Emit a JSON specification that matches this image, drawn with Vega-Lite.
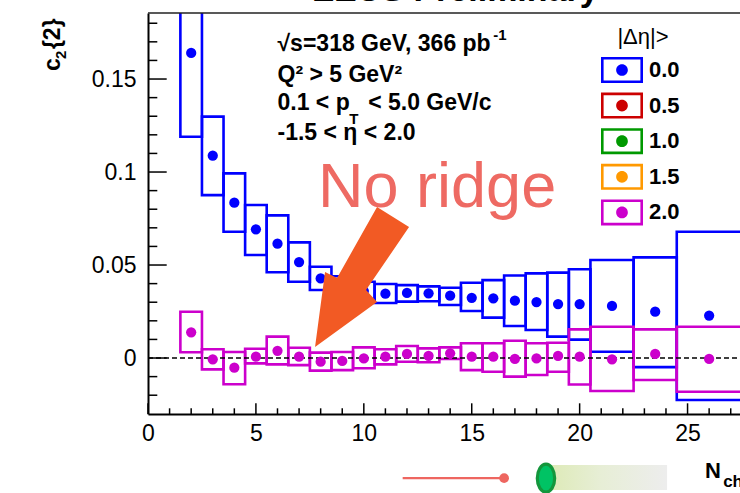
{
  "$schema": "https://vega.github.io/schema/vega-lite/v6.json",
  "width": 592,
  "height": 401,
  "autosize": {"type": "none"},
  "padding": {"left": 148, "top": 13, "right": 0, "bottom": 79},
  "background": "white",
  "config": {
    "view": {"stroke": null},
    "font": "Liberation Sans",
    "axisX": {
      "ticks": false,
      "grid": false,
      "labelFont": "Liberation Sans",
      "labelFontSize": 23,
      "labelColor": "black",
      "labelPadding": 8,
      "labelFlush": false,
      "labelOverlap": false,
      "domainColor": "black",
      "domainWidth": 2
    },
    "axisY": {
      "ticks": false,
      "grid": false,
      "labelFont": "Liberation Sans",
      "labelFontSize": 23,
      "labelColor": "black",
      "labelPadding": 12,
      "labelFlush": false,
      "labelOverlap": false,
      "domainColor": "black",
      "domainWidth": 2
    }
  },
  "data": {"values": [{}]},
  "datasets": {
    "c2": [
      {"series": "0.0", "nch": 2, "c2": 0.164, "lo": 0.119, "hi": 0.209, "x0": 1.5, "x1": 2.5},
      {"series": "0.0", "nch": 3, "c2": 0.1088, "lo": 0.0876, "hi": 0.1298, "x0": 2.5, "x1": 3.5},
      {"series": "0.0", "nch": 4, "c2": 0.0835, "lo": 0.0679, "hi": 0.0993, "x0": 3.5, "x1": 4.5},
      {"series": "0.0", "nch": 5, "c2": 0.0692, "lo": 0.0554, "hi": 0.0823, "x0": 4.5, "x1": 5.5},
      {"series": "0.0", "nch": 6, "c2": 0.0615, "lo": 0.0461, "hi": 0.0767, "x0": 5.5, "x1": 6.5},
      {"series": "0.0", "nch": 7, "c2": 0.0516, "lo": 0.041, "hi": 0.0622, "x0": 6.5, "x1": 7.5},
      {"series": "0.0", "nch": 8, "c2": 0.0428, "lo": 0.0366, "hi": 0.0491, "x0": 7.5, "x1": 8.5},
      {"series": "0.0", "nch": 9, "c2": 0.0385, "lo": 0.033, "hi": 0.044, "x0": 8.5, "x1": 9.5},
      {"series": "0.0", "nch": 10, "c2": 0.036, "lo": 0.031, "hi": 0.041, "x0": 9.5, "x1": 10.5},
      {"series": "0.0", "nch": 11, "c2": 0.0346, "lo": 0.0296, "hi": 0.0398, "x0": 10.5, "x1": 11.5},
      {"series": "0.0", "nch": 12, "c2": 0.035, "lo": 0.0303, "hi": 0.0392, "x0": 11.5, "x1": 12.5},
      {"series": "0.0", "nch": 13, "c2": 0.0348, "lo": 0.0305, "hi": 0.0385, "x0": 12.5, "x1": 13.5},
      {"series": "0.0", "nch": 14, "c2": 0.0335, "lo": 0.0285, "hi": 0.0378, "x0": 13.5, "x1": 14.5},
      {"series": "0.0", "nch": 15, "c2": 0.0324, "lo": 0.0253, "hi": 0.0405, "x0": 14.5, "x1": 15.5},
      {"series": "0.0", "nch": 16, "c2": 0.0321, "lo": 0.0217, "hi": 0.0419, "x0": 15.5, "x1": 16.5},
      {"series": "0.0", "nch": 17, "c2": 0.0308, "lo": 0.0172, "hi": 0.0444, "x0": 16.5, "x1": 17.5},
      {"series": "0.0", "nch": 18, "c2": 0.0301, "lo": 0.0151, "hi": 0.0455, "x0": 17.5, "x1": 18.5},
      {"series": "0.0", "nch": 19, "c2": 0.029, "lo": 0.0115, "hi": 0.0459, "x0": 18.5, "x1": 19.5},
      {"series": "0.0", "nch": 20, "c2": 0.029, "lo": 0.0099, "hi": 0.0477, "x0": 19.5, "x1": 20.5},
      {"series": "0.0", "nch": 21.5, "c2": 0.028, "lo": 0.0034, "hi": 0.0527, "x0": 20.5, "x1": 22.5},
      {"series": "0.0", "nch": 23.5, "c2": 0.0249, "lo": -0.0049, "hi": 0.0541, "x0": 22.5, "x1": 24.5},
      {"series": "0.0", "nch": 26, "c2": 0.0228, "lo": -0.0226, "hi": 0.0679, "x0": 24.5, "x1": 27.5},
      {"series": "2.0", "nch": 2, "c2": 0.0138, "lo": 0.0031, "hi": 0.0249, "x0": 1.5, "x1": 2.5},
      {"series": "2.0", "nch": 3, "c2": -0.0007, "lo": -0.0061, "hi": 0.0047, "x0": 2.5, "x1": 3.5},
      {"series": "2.0", "nch": 4, "c2": -0.0052, "lo": -0.0141, "hi": 0.0032, "x0": 3.5, "x1": 4.5},
      {"series": "2.0", "nch": 5, "c2": 0.0007, "lo": -0.0029, "hi": 0.005, "x0": 4.5, "x1": 5.5},
      {"series": "2.0", "nch": 6, "c2": 0.0039, "lo": -0.0034, "hi": 0.0115, "x0": 5.5, "x1": 6.5},
      {"series": "2.0", "nch": 7, "c2": 0.0007, "lo": -0.0038, "hi": 0.0055, "x0": 6.5, "x1": 7.5},
      {"series": "2.0", "nch": 8, "c2": -0.002, "lo": -0.0068, "hi": 0.0029, "x0": 7.5, "x1": 8.5},
      {"series": "2.0", "nch": 9, "c2": -0.0016, "lo": -0.0065, "hi": 0.0032, "x0": 8.5, "x1": 9.5},
      {"series": "2.0", "nch": 10, "c2": -0.0002, "lo": -0.0055, "hi": 0.0057, "x0": 9.5, "x1": 10.5},
      {"series": "2.0", "nch": 11, "c2": 0.0007, "lo": -0.0034, "hi": 0.0047, "x0": 10.5, "x1": 11.5},
      {"series": "2.0", "nch": 12, "c2": 0.0022, "lo": -0.002, "hi": 0.0065, "x0": 11.5, "x1": 12.5},
      {"series": "2.0", "nch": 13, "c2": 0.0012, "lo": -0.0023, "hi": 0.0052, "x0": 12.5, "x1": 13.5},
      {"series": "2.0", "nch": 14, "c2": 0.0025, "lo": -0.0005, "hi": 0.0057, "x0": 13.5, "x1": 14.5},
      {"series": "2.0", "nch": 15, "c2": 0.0007, "lo": -0.0065, "hi": 0.0079, "x0": 14.5, "x1": 15.5},
      {"series": "2.0", "nch": 16, "c2": 0.0007, "lo": -0.0074, "hi": 0.0079, "x0": 15.5, "x1": 16.5},
      {"series": "2.0", "nch": 17, "c2": -0.0005, "lo": -0.01, "hi": 0.0093, "x0": 16.5, "x1": 17.5},
      {"series": "2.0", "nch": 18, "c2": -0.0002, "lo": -0.0091, "hi": 0.0079, "x0": 17.5, "x1": 18.5},
      {"series": "2.0", "nch": 19, "c2": 0.0011, "lo": -0.0074, "hi": 0.0082, "x0": 18.5, "x1": 19.5},
      {"series": "2.0", "nch": 20, "c2": 0.0007, "lo": -0.0142, "hi": 0.0154, "x0": 19.5, "x1": 20.5},
      {"series": "2.0", "nch": 21.5, "c2": -0.0007, "lo": -0.0177, "hi": 0.0168, "x0": 20.5, "x1": 22.5},
      {"series": "2.0", "nch": 23.5, "c2": 0.0022, "lo": -0.0118, "hi": 0.0154, "x0": 22.5, "x1": 24.5},
      {"series": "2.0", "nch": 26, "c2": -0.0005, "lo": -0.0181, "hi": 0.0168, "x0": 24.5, "x1": 27.5}
    ],
    "yMajor": [{"v": 0}, {"v": 0.05}, {"v": 0.1}, {"v": 0.15}],
    "yMinor": [
      {"v": -0.02}, {"v": -0.01}, {"v": 0.01}, {"v": 0.02}, {"v": 0.03}, {"v": 0.04},
      {"v": 0.06}, {"v": 0.07}, {"v": 0.08}, {"v": 0.09}, {"v": 0.11}, {"v": 0.12},
      {"v": 0.13}, {"v": 0.14}, {"v": 0.16}, {"v": 0.17}, {"v": 0.18}
    ],
    "xMajor": [{"v": 0}, {"v": 5}, {"v": 10}, {"v": 15}, {"v": 20}, {"v": 25}],
    "xMinor": [
      {"v": 1}, {"v": 2}, {"v": 3}, {"v": 4}, {"v": 6}, {"v": 7}, {"v": 8}, {"v": 9},
      {"v": 11}, {"v": 12}, {"v": 13}, {"v": 14}, {"v": 16}, {"v": 17}, {"v": 18}, {"v": 19},
      {"v": 21}, {"v": 22}, {"v": 23}, {"v": 24}, {"v": 26}, {"v": 27}
    ]
  },
  "layer": [
    {
      "data": {"name": "c2"},
      "transform": [{"filter": "datum.series === '0.0'"}],
      "mark": {"type": "rect", "filled": false, "stroke": "#0000FF", "strokeWidth": 2.6, "clip": true},
      "encoding": {
        "x": {
          "field": "x0",
          "type": "quantitative",
          "scale": {"domain": [0, 27.43], "nice": false, "zero": false},
          "axis": {"values": [0, 5, 10, 15, 20, 25], "title": null}
        },
        "x2": {"field": "x1"},
        "y": {
          "field": "lo",
          "type": "quantitative",
          "scale": {"domain": [-0.0301, 0.1855], "nice": false, "zero": false},
          "axis": {"values": [0, 0.05, 0.1, 0.15], "format": "~g", "title": null}
        },
        "y2": {"field": "hi"}
      }
    },
    {
      "data": {"name": "c2"},
      "transform": [{"filter": "datum.series === '2.0'"}],
      "mark": {"type": "rect", "filled": false, "stroke": "#CC00CC", "strokeWidth": 2.6, "clip": true},
      "encoding": {
        "x": {"field": "x0", "type": "quantitative", "title": null},
        "x2": {"field": "x1"},
        "y": {"field": "lo", "type": "quantitative", "title": null},
        "y2": {"field": "hi"}
      }
    },
    {
      "mark": {"type": "rule", "color": "black", "strokeWidth": 1.3, "strokeDash": [5, 3]},
      "encoding": {
        "x": {"datum": 0, "type": "quantitative"},
        "x2": {"datum": 27.43},
        "y": {"datum": 0, "type": "quantitative"}
      }
    },
    {
      "data": {"name": "c2"},
      "mark": {"type": "point", "filled": true, "size": 105, "opacity": 1, "clip": true},
      "encoding": {
        "x": {"field": "nch", "type": "quantitative", "title": null},
        "y": {"field": "c2", "type": "quantitative", "title": null},
        "color": {
          "field": "series",
          "type": "nominal",
          "scale": {
            "domain": ["0.0", "0.5", "1.0", "1.5", "2.0"],
            "range": ["#0000FF", "#CC0000", "#009900", "#FF9900", "#CC00CC"]
          },
          "legend": {
            "title": "|Δη|>",
            "orient": "none",
            "legendX": 459,
            "legendY": 14,
            "padding": 0,
            "direction": "vertical",
            "symbolType": "M-1.4,-0.867H1.4V0.867H-1.4Z M-1.227,-0.693V0.693H1.227V-0.693Z M0.39,0A0.39,0.39,0,1,1,-0.39,0A0.39,0.39,0,1,1,0.39,0Z",
            "symbolSize": 900,
            "symbolStrokeWidth": 0,
            "symbolOpacity": 1,
            "labelFont": "Liberation Sans",
            "labelFontSize": 22,
            "labelFontWeight": "bold",
            "labelColor": "black",
            "labelOffset": 12,
            "titleFont": "Liberation Sans",
            "titleFontSize": 22,
            "titleFontWeight": "normal",
            "titleColor": "black",
            "titleAnchor": "middle",
            "titlePadding": 6,
            "rowPadding": 6.6
          }
        }
      }
    },
    {
      "data": {"name": "yMajor"},
      "mark": {"type": "rule", "color": "black", "strokeWidth": 1.5, "x2Offset": 18.7},
      "encoding": {
        "x": {"datum": 0, "type": "quantitative"},
        "x2": {"datum": 0},
        "y": {"field": "v", "type": "quantitative", "title": null}
      }
    },
    {
      "data": {"name": "yMinor"},
      "mark": {"type": "rule", "color": "black", "strokeWidth": 1.5, "x2Offset": 9.3},
      "encoding": {
        "x": {"datum": 0, "type": "quantitative"},
        "x2": {"datum": 0},
        "y": {"field": "v", "type": "quantitative", "title": null}
      }
    },
    {
      "data": {"name": "xMajor"},
      "mark": {"type": "rule", "color": "black", "strokeWidth": 1.5, "y2Offset": -10.7},
      "encoding": {
        "x": {"field": "v", "type": "quantitative", "title": null},
        "y": {"datum": -0.0301, "type": "quantitative"},
        "y2": {"datum": -0.0301}
      }
    },
    {
      "data": {"name": "xMinor"},
      "mark": {"type": "rule", "color": "black", "strokeWidth": 1.5, "y2Offset": -5.7},
      "encoding": {
        "x": {"field": "v", "type": "quantitative", "title": null},
        "y": {"datum": -0.0301, "type": "quantitative"},
        "y2": {"datum": -0.0301}
      }
    },
    {
      "mark": {"type": "rule", "color": "#222222", "strokeWidth": 1.6},
      "encoding": {
        "x": {"datum": 0, "type": "quantitative"},
        "x2": {"datum": 27.43},
        "y": {"datum": 0.1855, "type": "quantitative"}
      }
    },
    {
      "mark": {"type": "text", "text": "ZEUS Preliminary", "align": "center", "baseline": "alphabetic", "font": "Liberation Sans", "fontSize": 34, "fontWeight": "bold", "color": "black"},
      "encoding": {"x": {"datum": 14.27, "type": "quantitative"}, "y": {"datum": 0.1918, "type": "quantitative"}}
    },
    {
      "mark": {"type": "text", "text": "c", "align": "left", "baseline": "alphabetic", "angle": 270, "font": "Liberation Sans", "fontSize": 23, "fontWeight": "bold", "color": "black"},
      "encoding": {"x": {"datum": -4.08, "type": "quantitative"}, "y": {"datum": 0.1543, "type": "quantitative"}}
    },
    {
      "mark": {"type": "text", "text": "2", "align": "left", "baseline": "alphabetic", "angle": 270, "font": "Liberation Sans", "fontSize": 15, "fontWeight": "bold", "color": "black"},
      "encoding": {"x": {"datum": -3.8, "type": "quantitative"}, "y": {"datum": 0.1608, "type": "quantitative"}}
    },
    {
      "mark": {"type": "text", "text": "{2}", "align": "left", "baseline": "alphabetic", "angle": 270, "font": "Liberation Sans", "fontSize": 23, "fontWeight": "bold", "color": "black"},
      "encoding": {"x": {"datum": -4.08, "type": "quantitative"}, "y": {"datum": 0.1661, "type": "quantitative"}}
    },
    {
      "mark": {"type": "text", "text": "√s=318 GeV, 366 pb", "align": "left", "baseline": "alphabetic", "font": "Liberation Sans", "fontSize": 23, "fontWeight": "bold", "color": "black"},
      "encoding": {"x": {"datum": 6.0, "type": "quantitative"}, "y": {"datum": 0.1651, "type": "quantitative"}}
    },
    {
      "mark": {"type": "text", "text": "-1", "align": "left", "baseline": "alphabetic", "font": "Liberation Sans", "fontSize": 15, "fontWeight": "bold", "color": "black"},
      "encoding": {"x": {"datum": 16.0, "type": "quantitative"}, "y": {"datum": 0.171, "type": "quantitative"}}
    },
    {
      "mark": {"type": "text", "text": "Q² > 5 GeV²", "align": "left", "baseline": "alphabetic", "font": "Liberation Sans", "fontSize": 23, "fontWeight": "bold", "color": "black"},
      "encoding": {"x": {"datum": 6.0, "type": "quantitative"}, "y": {"datum": 0.1484, "type": "quantitative"}}
    },
    {
      "mark": {"type": "text", "text": "0.1 < p", "align": "left", "baseline": "alphabetic", "font": "Liberation Sans", "fontSize": 23, "fontWeight": "bold", "color": "black"},
      "encoding": {"x": {"datum": 6.0, "type": "quantitative"}, "y": {"datum": 0.1333, "type": "quantitative"}}
    },
    {
      "mark": {"type": "text", "text": "T", "align": "left", "baseline": "alphabetic", "font": "Liberation Sans", "fontSize": 15, "fontWeight": "bold", "color": "black"},
      "encoding": {"x": {"datum": 9.33, "type": "quantitative"}, "y": {"datum": 0.1258, "type": "quantitative"}}
    },
    {
      "mark": {"type": "text", "text": "< 5.0 GeV/c", "align": "left", "baseline": "alphabetic", "font": "Liberation Sans", "fontSize": 23, "fontWeight": "bold", "color": "black"},
      "encoding": {"x": {"datum": 10.2, "type": "quantitative"}, "y": {"datum": 0.1333, "type": "quantitative"}}
    },
    {
      "mark": {"type": "text", "text": "-1.5 < η < 2.0", "align": "left", "baseline": "alphabetic", "font": "Liberation Sans", "fontSize": 23, "fontWeight": "bold", "color": "black"},
      "encoding": {"x": {"datum": 6.0, "type": "quantitative"}, "y": {"datum": 0.1172, "type": "quantitative"}}
    },
    {
      "mark": {"type": "text", "text": "No ridge", "align": "left", "baseline": "alphabetic", "font": "Liberation Sans", "fontSize": 63, "color": "#EE6A63"},
      "encoding": {"x": {"datum": 7.88, "type": "quantitative"}, "y": {"datum": 0.0812, "type": "quantitative"}}
    },
    {
      "mark": {
        "type": "point",
        "shape": "M0,0L0.10,-0.75L0.22,-0.69L0.62,-1.40L0.94,-1.20L0.51,-0.57L0.62,-0.45Z",
        "size": 40000,
        "filled": true,
        "opacity": 1,
        "color": "#F25A24",
        "strokeWidth": 0
      },
      "encoding": {"x": {"datum": 7.74, "type": "quantitative"}, "y": {"datum": 0.0059, "type": "quantitative"}}
    },
    {
      "mark": {"type": "text", "text": "N", "align": "left", "baseline": "alphabetic", "font": "Liberation Sans", "fontSize": 22, "fontWeight": "bold", "color": "black"},
      "encoding": {"x": {"datum": 25.81, "type": "quantitative"}, "y": {"datum": -0.0645, "type": "quantitative"}}
    },
    {
      "mark": {"type": "text", "text": "ch", "align": "left", "baseline": "alphabetic", "font": "Liberation Sans", "fontSize": 17, "fontWeight": "bold", "color": "black"},
      "encoding": {"x": {"datum": 26.65, "type": "quantitative"}, "y": {"datum": -0.0694, "type": "quantitative"}}
    },
    {
      "mark": {"type": "rule", "color": "#EE6660", "strokeWidth": 2.2},
      "encoding": {
        "x": {"datum": 11.8, "type": "quantitative"},
        "x2": {"datum": 16.5},
        "y": {"datum": -0.0646, "type": "quantitative"}
      }
    },
    {
      "mark": {"type": "point", "shape": "circle", "filled": true, "opacity": 1, "size": 95, "color": "#EE6660"},
      "encoding": {"x": {"datum": 16.5, "type": "quantitative"}, "y": {"datum": -0.0646, "type": "quantitative"}}
    },
    {
      "mark": {
        "type": "rect",
        "color": {
          "gradient": "linear",
          "x1": 0, "y1": 0, "x2": 1, "y2": 0,
          "stops": [
            {"offset": 0, "color": "#DDEAB6"},
            {"offset": 0.45, "color": "#E7EED6"},
            {"offset": 1, "color": "#EDEDED"}
          ]
        }
      },
      "encoding": {
        "x": {"datum": 18.5, "type": "quantitative"},
        "x2": {"datum": 24.05},
        "y": {"datum": -0.0575, "type": "quantitative"},
        "y2": {"datum": -0.071}
      }
    },
    {
      "mark": {
        "type": "point",
        "shape": "M0.62,0A0.62,1,0,1,1,-0.62,0A0.62,1,0,1,1,0.62,0Z",
        "size": 784,
        "filled": true,
        "opacity": 1,
        "fill": "#00C364",
        "stroke": "#14963C",
        "strokeWidth": 3.2
      },
      "encoding": {"x": {"datum": 18.44, "type": "quantitative"}, "y": {"datum": -0.0646, "type": "quantitative"}}
    }
  ]
}
